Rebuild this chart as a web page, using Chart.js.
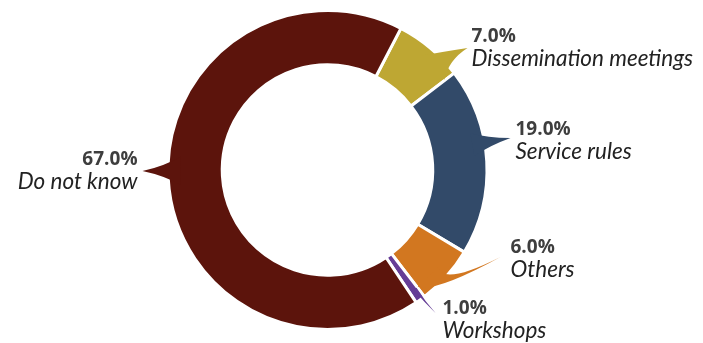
<!DOCTYPE html>
<html>
<head>
<meta charset="utf-8">
<script src="https://cdn.jsdelivr.net/npm/chart.js@4/dist/chart.umd.min.js"></script>
<style>
html, body { margin: 0; padding: 0; background: #fff; }
#wrap { width: 703px; height: 343px; position: relative; }
</style>
</head>
<body>
<div id="wrap"><canvas id="chart"></canvas></div>
<script>
// parts of the answers, clockwise from the top right
const categories = ['Dissemination meetings', 'Service rules', 'Others', 'Workshops', 'Do not know'];
const shares = [7.0, 19.0, 6.0, 1.0, 67.0];
const colours = ['#bea733', '#324a69', '#d27720', '#653d96', '#5c140c'];

// where each label sits, relative to the centre of the ring (dx, dy of the pointer tip)
const labelSpots = [
  { tipX: 140, tipY: -122, textX: 144, textY: -128, align: 'left', halfW: 6.5 },
  { tipX: 183, tipY: -32, textX: 188, textY: -35, align: 'left', halfW: 4.5 },
  { tipX: 173, tipY: 87, textX: 183, textY: 83, align: 'left', halfW: 5.5 },
  { tipX: 108, tipY: 143, textX: 115, textY: 144, align: 'left', halfW: 0.7 },
  { tipX: -185, tipY: 1, textX: -190, textY: -5, align: 'right', halfW: 5.5 }
];

const deg = Math.PI / 180;

// tapered pointer from the slice out to its label
function drawPointer(ctx, arc, spot, colour) {
  const p = arc.getProps(['x', 'y', 'startAngle', 'endAngle', 'outerRadius'], true);
  const tip = { x: p.x + spot.tipX, y: p.y + spot.tipY };
  let a = Math.atan2(spot.tipY, spot.tipX);
  while (a < p.startAngle) a += 2 * Math.PI;
  while (a > p.startAngle + 2 * Math.PI) a -= 2 * Math.PI;
  const hw = spot.halfW * deg;
  const pad = hw + 0.3 * deg;
  if (p.endAngle - p.startAngle > 2 * pad) {
    a = Math.min(Math.max(a, p.startAngle + pad), p.endAngle - pad);
  } else {
    a = (p.startAngle + p.endAngle) / 2;
  }
  const r0 = p.outerRadius - 12;
  const r1 = p.outerRadius + 4;
  const pt = (r, ang) => ({ x: p.x + r * Math.cos(ang), y: p.y + r * Math.sin(ang) });
  const b1 = pt(r0, a - hw), b2 = pt(r0, a + hw);
  const c1 = pt(r1, a - hw * 0.3), c2 = pt(r1, a + hw * 0.3);
  ctx.save();
  ctx.fillStyle = colour;
  ctx.beginPath();
  ctx.moveTo(b1.x, b1.y);
  ctx.quadraticCurveTo(c1.x, c1.y, tip.x, tip.y);
  ctx.quadraticCurveTo(c2.x, c2.y, b2.x, b2.y);
  ctx.closePath();
  ctx.fill();
  ctx.restore();
}

const calloutPlugin = {
  id: 'callouts',
  afterDatasetsDraw(chart) {
    const ctx = chart.ctx;
    const meta = chart.getDatasetMeta(0);
    meta.data.forEach((arc, i) => {
      const spot = labelSpots[i];
      drawPointer(ctx, arc, spot, colours[i]);
      const cx = arc.x + spot.textX;
      const cy = arc.y + spot.textY;
      ctx.save();
      ctx.textAlign = spot.align;
      ctx.textBaseline = 'alphabetic';
      ctx.fillStyle = '#3e3e3e';
      ctx.font = 'bold 19px "Open Sans"';
      ctx.fillText(shares[i].toFixed(1) + '%', cx, cy);
      ctx.fillStyle = '#222222';
      ctx.font = 'italic 22.5px Lato';
      ctx.fillText(categories[i], cx, cy + 24);
      ctx.restore();
    });
  }
};

const ctx = document.getElementById('chart').getContext('2d');
const chart = new Chart(ctx, {
  type: 'doughnut',
  data: {
    labels: categories,
    datasets: [{
      data: shares,
      backgroundColor: colours,
      borderColor: '#ffffff',
      borderWidth: 3
    }]
  },
  options: {
    responsive: true,
    maintainAspectRatio: false,
    animation: false,
    events: [],
    rotation: 27.4,
    cutout: '66%',
    layout: {
      padding: { top: 9, bottom: 12, left: 166, right: 214 }
    },
    plugins: {
      legend: { display: false },
      tooltip: { enabled: false }
    }
  },
  plugins: [calloutPlugin]
});
</script>
</body>
</html>
